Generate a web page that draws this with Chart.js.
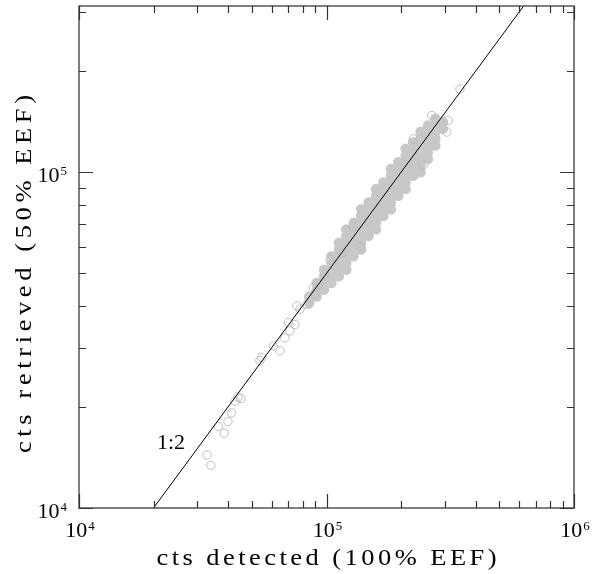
<!DOCTYPE html>
<html>
<head>
<meta charset="utf-8">
<script src="https://cdn.jsdelivr.net/npm/chart.js@4.4.0/dist/chart.umd.min.js"></script>
<style>
  html, body { margin: 0; padding: 0; background: #fff; }
  #wrap { width: 593px; height: 574px; }
</style>
</head>
<body>
<div id="wrap"><canvas id="grafico" width="593" height="574"></canvas></div>
<script>
// ----------- Datos -----------
// Nube densa: una columna de x con sus valores de y
const bandaX = [8.511e4, 9.120e4, 9.772e4, 1.047e5, 1.122e5, 1.202e5, 1.288e5, 1.380e5, 1.479e5, 1.585e5,
  1.698e5, 1.820e5, 1.950e5, 2.089e5, 2.239e5, 2.399e5, 2.570e5, 2.754e5, 2.951e5];
const bandaY = [
  [4.074e4, 4.266e4],
  [4.266e4, 4.467e4, 4.677e4],
  [4.467e4, 4.677e4, 4.898e4, 5.129e4],
  [4.677e4, 4.898e4, 5.129e4, 5.370e4, 5.623e4],
  [4.898e4, 5.129e4, 5.370e4, 5.623e4, 5.888e4, 6.166e4],
  [5.129e4, 5.370e4, 5.623e4, 5.888e4, 6.166e4, 6.457e4, 6.761e4],
  [5.623e4, 5.888e4, 6.166e4, 6.457e4, 6.761e4, 7.079e4],
  [5.888e4, 6.166e4, 6.457e4, 6.761e4, 7.079e4, 7.413e4, 7.762e4],
  [6.457e4, 6.761e4, 7.079e4, 7.413e4, 7.762e4, 8.128e4],
  [6.761e4, 7.079e4, 7.413e4, 7.762e4, 8.128e4, 8.511e4, 8.913e4],
  [7.413e4, 7.762e4, 8.128e4, 8.511e4, 8.913e4, 9.333e4],
  [7.762e4, 8.128e4, 8.511e4, 8.913e4, 9.333e4, 9.772e4, 1.023e5],
  [8.511e4, 8.913e4, 9.333e4, 9.772e4, 1.023e5, 1.072e5],
  [8.913e4, 9.333e4, 9.772e4, 1.023e5, 1.072e5, 1.122e5, 1.175e5],
  [9.772e4, 1.023e5, 1.072e5, 1.122e5, 1.175e5, 1.230e5],
  [1.000e5, 1.047e5, 1.096e5, 1.148e5, 1.202e5, 1.259e5, 1.318e5],
  [1.096e5, 1.148e5, 1.202e5, 1.259e5, 1.318e5, 1.380e5],
  [1.202e5, 1.259e5, 1.318e5, 1.380e5, 1.445e5],
  [1.349e5, 1.413e5]
];

// Puntos sueltos (circulos abiertos)
const sueltosX = [3.29e4, 3.41e4, 3.66e4, 3.86e4, 4.00e4, 4.13e4, 4.27e4, 4.39e4, 4.51e4,
  5.38e4, 5.47e4, 6.10e4, 6.49e4, 6.79e4, 7.01e4, 7.12e4, 7.46e4, 7.59e4, 7.82e4, 8.32e4,
  8.85e4, 8.98e4, 9.27e4, 9.86e4, 1.033e5, 1.152e5, 1.282e5, 1.366e5,
  2.243e5, 2.46e5, 2.66e5, 3.06e5, 3.10e5, 3.46e5];
const sueltosY = [1.44e4, 1.34e4, 1.75e4, 1.67e4, 1.81e4, 1.92e4, 2.08e4, 2.14e4, 2.12e4,
  2.75e4, 2.81e4, 3.04e4, 2.94e4, 3.21e4, 3.57e4, 3.37e4, 3.52e4, 4.00e4, 3.91e4, 4.04e4,
  4.53e4, 4.33e4, 4.63e4, 4.95e4, 5.50e4, 5.75e4, 6.90e4, 6.01e4,
  1.259e5, 1.05e5, 1.477e5, 1.318e5, 1.428e5, 1.768e5];

// Recta 1:2
const rectaX = [1e4, 1e6];
const rectaY = [5e3, 5e5];

// Ejes
const ejeXMin = 1e4, ejeXMax = 1e6;
const ejeYMin = 1e4, ejeYMax = 3.13e5;
const ticksMayoresX = [1e4, 1e5, 1e6];
const ticksMayoresY = [1e4, 1e5];
const etiquetasX = ["4", "5", "6"];
const etiquetasY = ["4", "5"];
const tituloX = "cts detected (100% EEF)";
const tituloY = "cts retrieved (50% EEF)";
const textoRecta = "1:2";

const FUENTE = '"Liberation Serif", "DejaVu Serif", serif';

// Helper: texto algo ensanchado y espaciado hasta un ancho dado (centrado en x)
function textoAncho(ctx, texto, x, y, ancho, tam) {
  const escala = 1.15;
  ctx.font = tam + "px " + FUENTE;
  ctx.letterSpacing = "0px";
  const w = ctx.measureText(texto).width;
  const esp = Math.max(0, (ancho / escala - w) / (texto.length - 1));
  ctx.save();
  ctx.translate(x - ancho / 2, y);
  ctx.scale(escala, 1);
  ctx.letterSpacing = esp + "px";
  ctx.textAlign = "left";
  ctx.textBaseline = "alphabetic";
  ctx.fillText(texto, 0, 0);
  ctx.letterSpacing = "0px";
  ctx.restore();
}

// Helper: "10" con exponente
function potencia(ctx, exp, x, y, alin) {
  ctx.font = "22px " + FUENTE;
  const wb = ctx.measureText("10").width;
  ctx.font = "13px " + FUENTE;
  const we = ctx.measureText(exp).width;
  const total = wb + 1 + we;
  let x0 = x;
  if (alin === "center") x0 = x - total / 2;
  if (alin === "right") x0 = x - total;
  ctx.textAlign = "left";
  ctx.textBaseline = "alphabetic";
  ctx.font = "22px " + FUENTE;
  ctx.fillText("10", x0, y);
  ctx.font = "13px " + FUENTE;
  ctx.fillText(exp, x0 + wb + 1, y - 7);
}

// Marcas de una escala log (1..9 por decada)
function marcasLog(min, max) {
  const out = [];
  for (let d = Math.floor(Math.log10(min)); d <= Math.ceil(Math.log10(max)); d++) {
    for (let k = 1; k <= 9; k++) {
      const v = k * Math.pow(10, d);
      if (v >= min * 0.999 && v <= max * 1.001) out.push({ v: v, mayor: k === 1 });
    }
  }
  return out;
}

const marcoPlugin = {
  id: "marco",
  afterDraw(chart) {
    const ctx = chart.ctx;
    const a = chart.chartArea;
    const sx = chart.scales.x, sy = chart.scales.y;
    ctx.save();
    ctx.strokeStyle = "#555";
    ctx.lineWidth = 1.5;
    ctx.strokeRect(a.left, a.top, a.right - a.left, a.bottom - a.top);

    ctx.strokeStyle = "#333";
    ctx.lineWidth = 1.2;
    ctx.beginPath();
    marcasLog(ejeXMin, ejeXMax).forEach(m => {
      const px = Math.round(sx.getPixelForValue(m.v)) + 0.5;
      const L = m.mayor ? 14 : 7;
      ctx.moveTo(px, a.bottom); ctx.lineTo(px, a.bottom - L);
      ctx.moveTo(px, a.top); ctx.lineTo(px, a.top + L);
    });
    marcasLog(ejeYMin, ejeYMax).forEach(m => {
      const py = Math.round(sy.getPixelForValue(m.v)) + 0.5;
      const L = m.mayor ? 14 : 7;
      ctx.moveTo(a.left, py); ctx.lineTo(a.left + L, py);
      ctx.moveTo(a.right, py); ctx.lineTo(a.right - L, py);
    });
    ctx.stroke();

    ctx.fillStyle = "#000";
    ticksMayoresX.forEach((v, i) => {
      potencia(ctx, etiquetasX[i], sx.getPixelForValue(v) + 1, a.bottom + 29, "center");
    });
    ticksMayoresY.forEach((v, i) => {
      potencia(ctx, etiquetasY[i], a.left - 12, sy.getPixelForValue(v) + 9.5, "right");
    });

    // titulos
    textoAncho(ctx, tituloX, 326.5, 565, 340, 23);
    ctx.save();
    ctx.translate(31, 274);
    ctx.rotate(-Math.PI / 2);
    textoAncho(ctx, tituloY, 0, 0, 358, 23);
    ctx.restore();

    // etiqueta de la recta
    ctx.font = "22px " + FUENTE;
    ctx.textAlign = "left";
    ctx.fillText(textoRecta, 157, 449);
    ctx.restore();
  }
};

function renderGrafico() {
  const ctx = document.getElementById("grafico");

  const puntosBanda = [];
  bandaX.forEach((x, i) => bandaY[i].forEach(y => puntosBanda.push({ x: x, y: y })));
  const puntosSueltos = sueltosX.map((x, i) => ({ x: x, y: sueltosY[i] }));
  const puntosRecta = rectaX.map((x, i) => ({ x: x, y: rectaY[i] }));

  new Chart(ctx, {
    type: "scatter",
    data: {
      datasets: [
        {
          type: "line",
          data: puntosRecta,
          borderColor: "#000",
          borderWidth: 1,
          pointRadius: 0,
          fill: false,
          order: 0
        },
        {
          data: puntosSueltos,
          pointRadius: 4.2,
          pointBorderWidth: 1,
          borderColor: "#bdbdbd",
          backgroundColor: "rgba(0,0,0,0)",
          order: 1
        },
        {
          data: puntosBanda,
          pointRadius: 4.5,
          pointBorderWidth: 1.5,
          borderColor: "#c8c8c8",
          backgroundColor: "#c8c8c8",
          order: 2
        }
      ]
    },
    options: {
      responsive: false,
      animation: false,
      layout: { padding: { left: 79, right: 19, top: 3, bottom: 66 } },
      plugins: { legend: { display: false }, tooltip: { enabled: false } },
      scales: {
        x: { type: "logarithmic", min: ejeXMin, max: ejeXMax, display: false },
        y: { type: "logarithmic", min: ejeYMin, max: ejeYMax, display: false }
      }
    },
    plugins: [marcoPlugin]
  });
}

document.addEventListener("DOMContentLoaded", renderGrafico);
</script>
</body>
</html>
